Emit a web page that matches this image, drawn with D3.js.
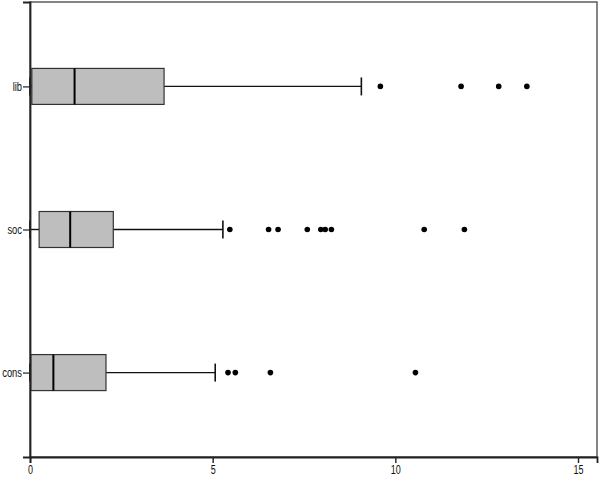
<!DOCTYPE html>
<html>
<head>
<meta charset="utf-8">
<script src="https://cdn.jsdelivr.net/npm/d3@7"></script>
<style>
  body { margin: 0; background: #fff; }
  text { font-family: "Liberation Sans", Arial, sans-serif; }
</style>
</head>
<body>
<div id="chart"></div>
<script>
// box plot values
const groups = ["lib", "soc", "cons"];
const whiskLo = [0, 0, 0];
const q1 = [0.05, 0.25, 0.02];
const medians = [1.22, 1.10, 0.64];
const q3 = [3.67, 2.28, 2.08];
const whiskHi = [9.07, 5.28, 5.07];
const outliers = [
  [9.59, 11.8, 12.83, 13.6],
  [5.47, 6.53, 6.79, 7.59, 7.96, 8.08, 8.25, 10.79, 11.89],
  [5.42, 5.62, 6.58, 10.55]
];
const xTicks = [0, 5, 10, 15];

const width = 600, height = 477;
const plotL = 30, plotR = 597, plotT = 2, plotB = 457;

const svg = d3.select("#chart").append("svg")
  .attr("width", width)
  .attr("height", height);

const x = d3.scaleLinear().domain([0, 15.52]).range([plotL, plotR]);
const y = d3.scalePoint().domain(groups).range([plotT, plotB]).padding(0.59);

const boxH = 36, capH = 18;

// frame (top + right)
svg.append("rect")
  .attr("x", plotL).attr("y", plotT)
  .attr("width", plotR - plotL).attr("height", plotB - plotT)
  .attr("fill", "none")
  .attr("stroke", "#444")
  .attr("stroke-width", 1.3);

const rows = groups.map((g, i) => ({
  g, lo: whiskLo[i], q1: q1[i], med: medians[i], q3: q3[i], hi: whiskHi[i], out: outliers[i]
}));

const row = svg.selectAll("g.row").data(rows).enter().append("g")
  .attr("class", "row")
  .attr("transform", d => `translate(0,${y(d.g)})`);

// whiskers
row.append("line")
  .attr("x1", d => x(d.lo)).attr("x2", d => x(d.q1))
  .attr("stroke", "#111").attr("stroke-width", 1.4);
row.append("line")
  .attr("x1", d => x(d.q3)).attr("x2", d => x(d.hi))
  .attr("stroke", "#111").attr("stroke-width", 1.4);
row.append("line")
  .attr("x1", d => x(d.lo)).attr("x2", d => x(d.lo))
  .attr("y1", -capH / 2).attr("y2", capH / 2)
  .attr("stroke", "#111").attr("stroke-width", 1.6);
row.append("line")
  .attr("x1", d => x(d.hi)).attr("x2", d => x(d.hi))
  .attr("y1", -capH / 2).attr("y2", capH / 2)
  .attr("stroke", "#111").attr("stroke-width", 1.6);

// boxes
row.append("rect")
  .attr("x", d => x(d.q1))
  .attr("y", -boxH / 2)
  .attr("width", d => x(d.q3) - x(d.q1))
  .attr("height", boxH)
  .attr("fill", "#bebebe")
  .attr("stroke", "#333")
  .attr("stroke-width", 1.2);

// medians
row.append("line")
  .attr("x1", d => x(d.med)).attr("x2", d => x(d.med))
  .attr("y1", -boxH / 2).attr("y2", boxH / 2)
  .attr("stroke", "#000").attr("stroke-width", 2);

// outliers
row.selectAll("circle").data(d => d.out).enter().append("circle")
  .attr("cx", d => x(d))
  .attr("cy", 0)
  .attr("r", 2.8)
  .attr("fill", "#000");

// squeeze text to look like the narrow font in the original
function narrow(sel, k) {
  sel.each(function() {
    const w = this.getComputedTextLength();
    d3.select(this).attr("textLength", w * k).attr("lengthAdjust", "spacingAndGlyphs");
  });
}

// axes
const xAxis = svg.append("g")
  .attr("transform", `translate(0,${plotB})`)
  .call(d3.axisBottom(x).tickValues(xTicks).tickSize(6).tickPadding(2));
xAxis.select(".domain").attr("stroke", "#222").attr("stroke-width", 1.8);
xAxis.selectAll(".tick line").attr("stroke", "#222").attr("stroke-width", 1.4);
xAxis.selectAll("text").attr("font-size", 12.5).attr("fill", "#111").call(narrow, 0.72);

const yAxis = svg.append("g")
  .attr("transform", `translate(${plotL},0)`)
  .call(d3.axisLeft(y).tickSize(7).tickPadding(1));
yAxis.select(".domain").attr("stroke", "#222").attr("stroke-width", 1.8);
yAxis.selectAll(".tick line").attr("stroke", "#222").attr("stroke-width", 1.2);
yAxis.selectAll("text").attr("font-size", 12).attr("fill", "#111").call(narrow, 0.78);
</script>
</body>
</html>
